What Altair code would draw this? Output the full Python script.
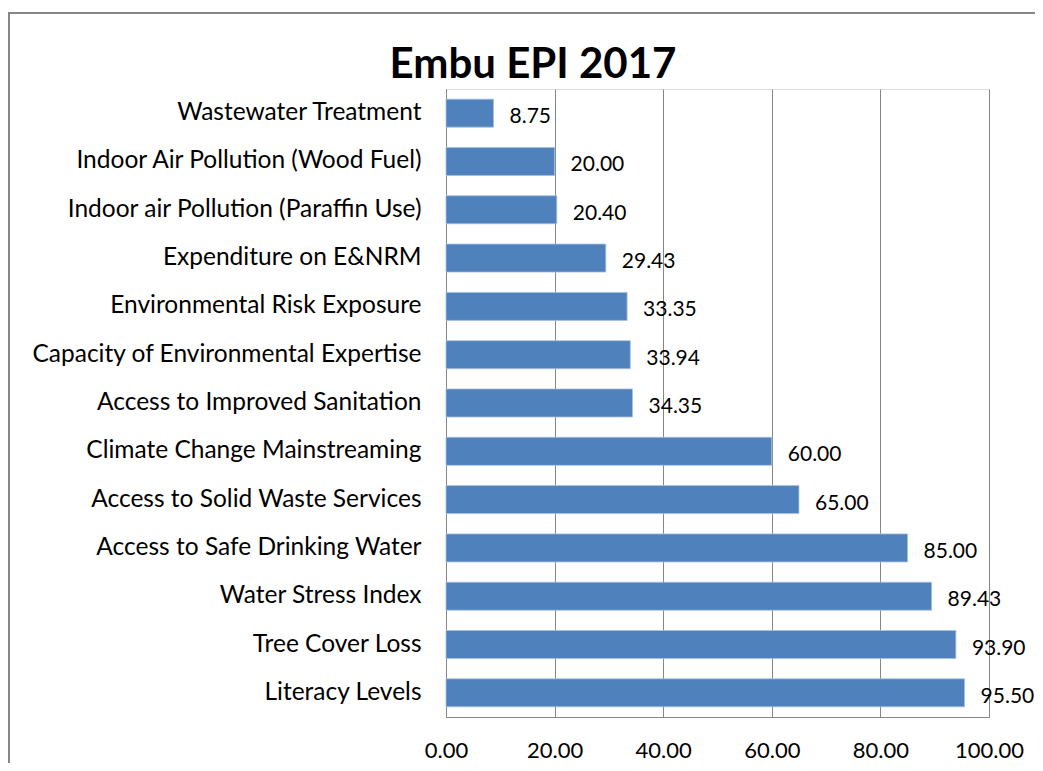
import altair as alt
import pandas as pd

SP = "\u2009"
categories = [
    "Wastewater Treatment",
    "Indoor Air Pollution (Wood Fuel)",
    "Indoor air Pollution (Paraffin Use)",
    "Expenditure on E&NRM",
    "Environmental Risk Exposure" + SP + SP,
    "Capacity of Environmental Expertise",
    "Access to Improved Sanitation" + SP,
    "Climate Change Mainstreaming" + SP,
    "Access to Solid Waste Services",
    "Access to Safe Drinking Water" + SP,
    "Water Stress Index",
    "Tree Cover Loss" + SP,
    "Literacy Levels" + SP,
]
values = [8.75, 20.00, 20.40, 29.43, 33.35, 33.94, 34.35, 60.00, 65.00, 85.00, 89.43, 93.90, 95.50]
x_ticks = [0, 20, 40, 60, 80, 100]
title_text = "Embu EPI 2017"

df = pd.DataFrame({"indicator": categories, "score": values})

FONT = "Lato"
GRAY = "#868686"
BLUE = "#4F81BD"

y_enc = alt.Y(
    "indicator:N",
    sort=categories,
    scale=alt.Scale(paddingInner=0.42, paddingOuter=0.21),
    axis=alt.Axis(
        title=None, ticks=False, labelPadding=25, labelFont=FONT, labelFontSize=24.5,
        labelColor="black", domainColor=GRAY, domainWidth=1, grid=False, labelLimit=500,
    ),
)
x_enc = alt.X(
    "score:Q",
    scale=alt.Scale(domain=[0, 100], nice=False),
    axis=alt.Axis(
        title=None, values=x_ticks, format=".2f", ticks=False, labelPadding=23,
        labelFlush=False, labelFont=FONT, labelFontSize=22, labelColor="black",
        domainColor=GRAY, domainWidth=1, grid=True, gridColor=GRAY, gridWidth=1, gridOpacity=1,
    ),
)

base = alt.Chart(df)

bars = base.mark_bar(color=BLUE, stroke="#A7C0DE", strokeWidth=0.8).encode(y=y_enc, x=x_enc)

labels = base.mark_text(
    align="left", baseline="alphabetic", dx=16, dy=10, font=FONT, fontSize=21, color="black"
).encode(y=y_enc, x=x_enc, text=alt.Text("score:Q", format=".2f"))

single = alt.Data(values=[{"t": title_text}])
title_mark = alt.Chart(single).mark_text(
    font=FONT, fontSize=42, fontWeight="bold", color="black", align="center", baseline="alphabetic"
).encode(x=alt.value(87), y=alt.value(-11), text="t:N")

frame_left = alt.Chart(single).mark_rule(color=GRAY, strokeWidth=2).encode(
    x=alt.value(-437), y=alt.value(-76), y2=alt.value(720)
)
frame_top = alt.Chart(single).mark_rule(color=GRAY, strokeWidth=2).encode(
    x=alt.value(-438), x2=alt.value(620), y=alt.value(-76)
)

chart = (
    alt.layer(bars, labels, title_mark, frame_left, frame_top)
    .properties(
        width=543,
        height=628,
        autosize=alt.AutoSizeParams(type="none"),
        padding={"left": 438, "top": 81, "right": 46, "bottom": 46},
    )
    .configure_view(stroke=None)
    .configure(background="white")
)

chart.save("out.html", embed_options={"renderer": "svg", "actions": False})
